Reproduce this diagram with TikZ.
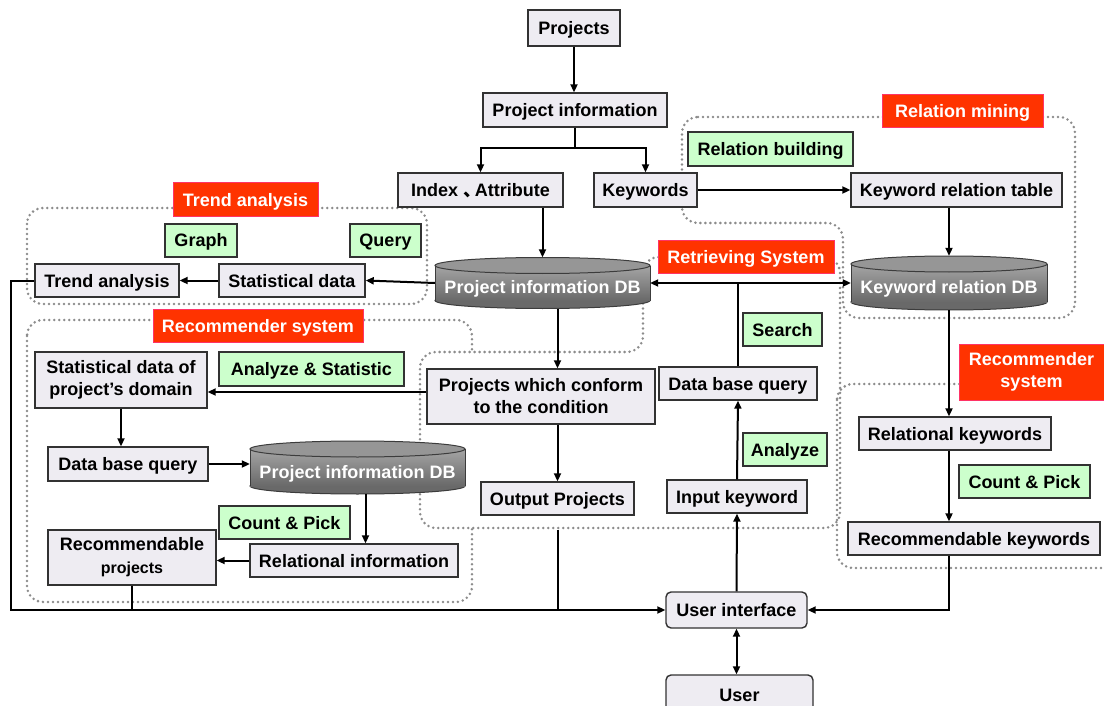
\documentclass[tikz,border=0pt]{standalone}
\usepackage{fontspec}
\setmainfont{Liberation Sans}
\newfontfamily\cjk{Noto Sans CJK SC}
\usetikzlibrary{arrows.meta,backgrounds,calc}
\definecolor{boxfill}{RGB}{238,236,242}
\definecolor{boxline}{RGB}{50,50,50}
\definecolor{greenfill}{RGB}{204,255,204}
\definecolor{redfill}{RGB}{255,51,0}
\definecolor{redline}{RGB}{255,51,102}
\definecolor{regiongray}{RGB}{140,140,140}
\definecolor{dbline}{RGB}{60,60,60}
\definecolor{dbdark}{RGB}{105,105,105}
\definecolor{dbhi}{RGB}{165,165,165}
\definecolor{dbtop}{RGB}{150,150,150}
\newcommand{\dbcyl}[4]{%
\begin{scope}[shift={(#1,#2)}]
\filldraw[draw=dbline, fill=dbdark, line width=1pt] (0,#4) ellipse [x radius=#3, y radius=8];
\shade[top color=dbhi, bottom color=dbdark] (-#3,-#4) rectangle (#3,#4);
\draw[dbline, line width=1pt] (-#3,-#4) -- (-#3,#4) (#3,-#4) -- (#3,#4);
\filldraw[draw=dbline, fill=dbtop, line width=1pt] (0,-#4) ellipse [x radius=#3, y radius=8];
\end{scope}}
\begin{document}
\begin{tikzpicture}[x=1pt,y=-1pt,
  font=\fontsize{18}{22}\selectfont\bfseries,
  wh/.style 2 args={minimum width=#1pt, minimum height=#2pt},
  one/.style={text height=13pt, text depth=0pt},
  box/.style={draw=boxline, fill=boxfill, line width=1.4pt, inner sep=0pt, align=center},
  tag/.style={draw=boxline, fill=greenfill, line width=1.2pt, inner sep=0pt, align=center, one},
  title/.style={draw=redline, fill=redfill, text=white, line width=1pt, inner sep=0pt, align=center},
  ubox/.style={box, rounded corners=5pt, one},
  dbtext/.style={text=white, inner sep=0pt, text height=21pt, text depth=0pt},
  region/.style={draw=regiongray, line width=2.8pt, dash pattern=on 0pt off 5pt, line cap=round, rounded corners=16pt},
  tip/.tip={Triangle[length=8pt,width=7pt]},
  arr/.style={line width=2pt, -tip},
  ln/.style={line width=2pt},
  dbl/.style={line width=2pt, tip-tip},
]
\useasboundingbox (0,0) rectangle (1104,706);
\clip (0,0) rectangle (1104,706);

% nodes
\node[box, one, wh={92}{36}] (proj) at (574,28) {Projects};
\node[box, one, wh={184}{34}] (pinfo) at (575,110) {Project information};
\node[box, one, wh={165}{34}] (index) at (480.5,190) {Index {\cjk 、}\kern-0.35em Attribute};
\node[box, one, wh={103}{34}] (kw) at (645.5,190) {Keywords};
\node[box, one, wh={211}{34}] (kwtab) at (956.5,190) {Keyword relation table};
\node[tag, wh={165}{34}] (relbuild) at (770.5,149) {Relation building};
\node[title, one, wh={161}{33}] (relmine) at (962.5,111.5) {Relation mining};
\node[title, one, wh={145}{34}] (trendt) at (245.5,200) {Trend analysis};
\node[tag, wh={72}{33}] (graph) at (201,240.5) {Graph};
\node[tag, wh={71}{33}] (query) at (385.5,240.5) {Query};
\node[box, one, wh={144}{33}] (trend) at (107,280.5) {Trend analysis};
\node[box, one, wh={146}{33}] (stat) at (292,280.5) {Statistical data};

\dbcyl{542.5}{283}{107.5}{17.5}
\node[dbtext, wh={215}{51}] (db1) at (542.5,283) {Project information DB};
\node[title, one, wh={176}{33}] (rett) at (746,256.5) {Retrieving System};
\dbcyl{949}{283}{98}{19}
\node[dbtext, wh={196}{54}] (db2) at (949,283) {Keyword relation DB};

\node[tag, wh={79}{33}] (search) at (782.5,329.5) {Search};
\node[box, one, wh={158}{33}] (dbqr) at (738,383.5) {Data base query};
\node[tag, wh={84}{33}] (analyze) at (785,449.5) {Analyze};
\node[box, one, wh={140}{33}] (inkw) at (737,496.5) {Input keyword};
\node[box, one, wh={153}{33}] (outp) at (557.5,498.5) {Output Projects};
\node[box, wh={228}{55}] (conform) at (541,396.5) {Projects which conform\\to the condition};

\node[title, one, wh={210}{33}] (recl) at (258,325.5) {Recommender system};
\node[box, wh={172}{56}] (statdom) at (121,380) {Statistical data of\\project’s domain};
\node[tag, wh={185}{34}] (anstat) at (311.5,369) {Analyze \& Statistic};
\node[box, one, wh={160}{34}] (dbql) at (128,464) {Data base query};
\dbcyl{357.5}{467.5}{107.5}{18.5}
\node[dbtext, wh={215}{53}] (db3) at (357.5,467.5) {Project information DB};
\node[tag, wh={131}{33}] (countl) at (284.5,522.5) {Count \& Pick};
\node[box, one, wh={208}{33}] (relinfo) at (354,560.5) {Relational information};
\node[box, wh={168}{55}] (recproj) at (132,557.5) {Recommendable\\[1pt]{\fontsize{16}{17}\selectfont projects}};

\node[title, wh={145}{56}] (recr) at (1031.5,372) {Recommender\\system};
\node[box, one, wh={192}{33}] (relkw) at (955,433.5) {Relational keywords};
\node[tag, wh={131}{33}] (countr) at (1024.5,481.5) {Count \& Pick};
\node[box, one, wh={252}{33}] (reckw) at (974,538.5) {Recommendable keywords};

\node[ubox, wh={141}{36}] (ui) at (736.5,610) {User interface};
\node[ubox, wh={147}{40}] (user) at (739.5,695) {User};

\coordinate (split) at (575,148);
\coordinate (rsb) at (557.5,530);

% regions
\begin{scope}[on background layer]
\draw[region] (27,208) rectangle (427,304);
\draw[region] (27,320) rectangle (472,602);
\draw[region, fill=white] (643,257) -- (840,257) -- (840,528) -- (420,528) -- (420,352) -- (643,352) -- cycle;
\draw[region] (682,117) -- (1075,117) -- (1075,318) -- (843,318) -- (843,223) -- (682,223) -- cycle;
\draw[region] (837,384) rectangle (1130,568);
\end{scope}

% connectors
\draw[arr] (proj.south) -- (pinfo.north -| proj.south);
\draw[ln] (pinfo.south) -- (split);
\draw[arr] (split) -| (index.north);
\draw[arr] (split) -| (kw.north);
\draw[arr] (kw.east) -- (kwtab.west);
\draw[arr] (kwtab.south -| db2.north) -- (db2.north);
\draw[arr] (index.south -| db1.north) -- (db1.north);
\draw[arr] (db1.west) -- (stat.east);
\draw[arr] (stat.west) -- (trend.east);
\draw[arr] (trend.west) -- ++(-23,0) |- (ui.west);
\draw[dbl] (db1.east) -- (db2.west);
\draw[ln] (dbqr.north) -- (dbqr.north |- db1.east);
\draw[arr] (inkw.north) -- (dbqr.south);
\draw[arr] (ui.north) -- (inkw.south);
\draw[arr] (db1.south -| outp.north) -- (conform.north -| outp.north);
\draw[arr] (conform.south -| outp.north) -- (outp.north);
\draw[ln] (rsb) -- (rsb |- ui.west);
\draw[arr] ([yshift=4.5pt]conform.west) -- ([yshift=4.5pt]conform.west -| statdom.east);
\draw[arr] (statdom.south) -- (statdom.south |- dbql.north);
\draw[arr] (dbql.east) -- (dbql.east -| db3.west);
\draw[arr] ([xshift=8pt]db3.south) -- ([xshift=8pt]db3.south |- relinfo.north);
\draw[arr] (relinfo.west) -- (relinfo.west -| recproj.east);
\draw[ln] (recproj.south) -- (recproj.south |- ui.west);
\draw[arr] (db2.south) -- (db2.south |- relkw.north);
\draw[arr] (db2.south |- relkw.south) -- (db2.south |- reckw.north);
\draw[arr] (db2.south |- reckw.south) |- (ui.east);
\draw[dbl] (ui.south) -- (ui.south |- user.north);
\end{tikzpicture}
\end{document}
